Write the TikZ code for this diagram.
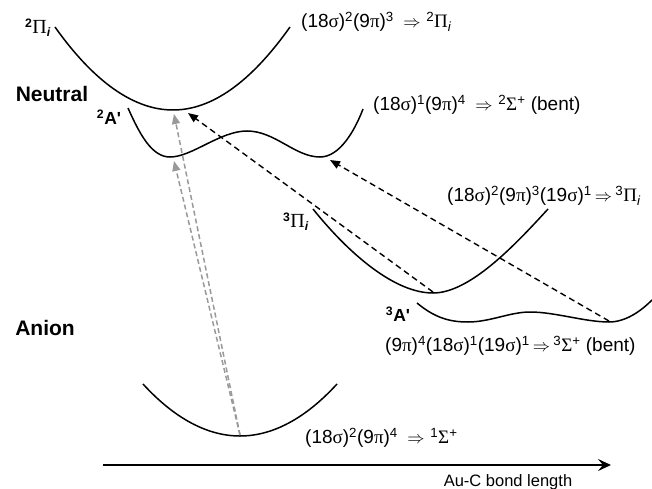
\documentclass[tikz,border=0pt]{standalone}
\usepackage{fontspec}
\setmainfont{Liberation Sans}
\newfontfamily\grk{Liberation Serif}
\usetikzlibrary{arrows.meta}
\newcommand{\sg}{{\grk σ}}
\newcommand{\pp}{{\grk π}}
\newcommand{\up}[1]{\textsuperscript{#1}}
\newcommand{\dn}[1]{\textsubscript{#1}}
\newcommand{\imp}{\,$\Rightarrow$\,}
\newcommand{\wimp}{\hspace{0.5em}$\Rightarrow$\hspace{0.3em}}
\newcommand{\bigPi}{{\mdseries\grk\fontsize{20}{22}\selectfont Π}}
\tikzset{
  curve/.style={line width=1.5pt, black},
  grayarr/.style={line width=1.5pt, draw=gray!80, dash pattern=on 5pt off 3pt, -{Triangle[length=10pt,width=8pt,fill=gray!80]}},
  blackarr/.style={line width=1.4pt, dash pattern=on 6pt off 4pt, -{Triangle[length=10pt,width=8pt]}},
  cfg/.style={font=\fontsize{19}{22}\selectfont, inner sep=0pt, anchor=west},
  state/.style={font=\fontsize{17.5}{20}\selectfont\bfseries, inner sep=0pt},
  region/.style={font=\fontsize{21}{24}\selectfont\bfseries, inner sep=0pt},
}
\begin{document}
\begin{tikzpicture}[x=1pt,y=-1pt]
\useasboundingbox (0,0) rectangle (652,489);
% potential curves
\draw[curve] (55,27) .. controls (94,82) and (134,110) .. (173,110)
  .. controls (212,110) and (251,82) .. (290,27);
\draw[curve] (128,108) .. controls (140,135) and (152,157) .. (170,157)
  .. controls (192,157) and (220,131) .. (247,131)
  .. controls (275,131) and (295,157) .. (320,157)
  .. controls (340,157) and (355,130) .. (363,109);
\draw[curve] (313,209) .. controls (350,255) and (395,293) .. (433,293)
  .. controls (470,293) and (515,245) .. (548,209);
\draw[curve] (417,303) .. controls (435,318) and (450,322) .. (468,322)
  .. controls (490,322) and (510,312) .. (530,312)
  .. controls (555,312) and (585,322) .. (609,322)
  .. controls (625,322) and (640,312) .. (652,300);
\draw[curve] (143,384) .. controls (175,419) and (208,436) .. (240,436)
  .. controls (272,436) and (305,419) .. (337,384);
% connector end points
\coordinate (s0) at (240,435);
\coordinate (t1) at (174,114);
\coordinate (t2) at (174,161);
\coordinate (s1) at (433,292);
\coordinate (t3) at (188,113);
\coordinate (s2) at (609,321);
\coordinate (t4) at (330,160);
\draw[grayarr] (s0) -- (t1);
\draw[grayarr] (s0) -- (t2);
\draw[blackarr] (s1) -- (t3);
\draw[blackarr] (s2) -- (t4);
% axis
\coordinate (ax0) at (103,465);
\coordinate (ax1) at (611,465);
\draw[line width=2.4pt, -{Stealth[length=13pt,width=12pt,inset=5pt]}] (ax0) -- (ax1);
\node[font=\fontsize{16.5}{19}\selectfont, inner sep=0pt] (axl) at (508,482) {Au-C bond length};
% region labels
\node[region] (neutral) at (52,94) {Neutral};
\node[region] (anion) at (45,328) {Anion};
% state labels
\node[state] (l2pi) at (38,28) {\up{2}\bigPi\dn{\textit{i}}};
\node[state] (l2a) at (109,117) {\up{2}A\textquotesingle};
\node[state] (l3pi) at (296,222) {\up{3}\bigPi\dn{\textit{i}}};
\node[state] (l3a) at (398,314) {\up{3}A\textquotesingle};
% configurations
\node[cfg] (c1) at (301,22) {(18\sg)\up{2}(9\pp)\up{3}\wimp\up{2}{\grk Π}\dn{\textit{i}}};
\node[cfg] (c2) at (373,105) {(18\sg)\up{1}(9\pp)\up{4}\wimp\up{2}{\grk Σ}\up{+} (bent)};
\node[cfg] (c3) at (447,196) {(18\sg)\up{2}(9\pp)\up{3}(19\sg)\up{1}\imp\up{3}{\grk Π}\dn{\textit{i}}};
\node[cfg] (c4) at (385,346) {(9\pp)\up{4}(18\sg)\up{1}(19\sg)\up{1}\imp\up{3}{\grk Σ}\up{+} (bent)};
\node[cfg] (c5) at (305,438) {(18\sg)\up{2}(9\pp)\up{4}\wimp\up{1}{\grk Σ}\up{+}};
\end{tikzpicture}
\end{document}
